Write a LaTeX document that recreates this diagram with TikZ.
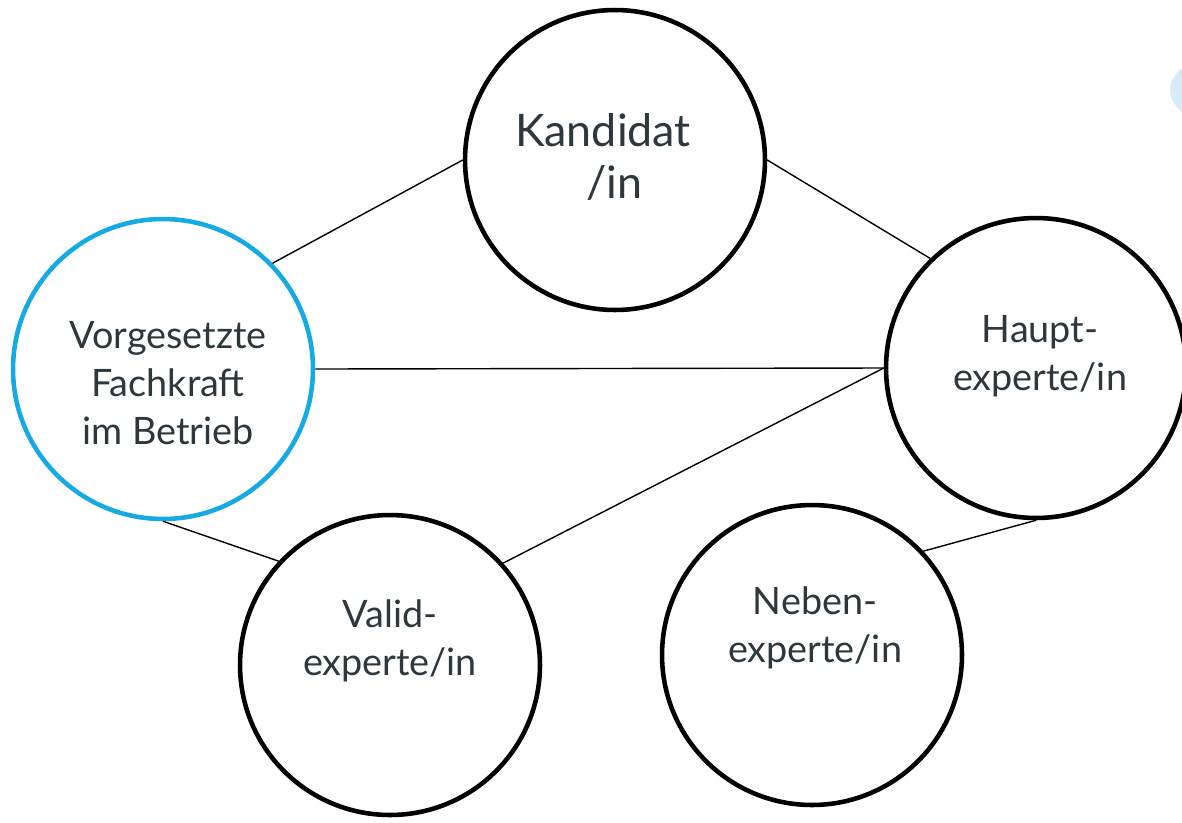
\documentclass[tikz,border=0pt]{standalone}
\usepackage{fontspec}
\setmainfont{Lato}
\definecolor{txtgray}{RGB}{45,55,62}
\definecolor{ringblue}{RGB}{22,170,226}
\definecolor{paleblue}{RGB}{214,236,246}
\begin{document}
\begin{tikzpicture}[x=0.02cm,y=-0.02cm,
  ring/.style={circle,draw,line width=2.6pt,minimum size=6cm,inner sep=0pt},
  role/.style={align=center,text=txtgray,font=\fontsize{21.5}{27.5}\selectfont},
  link/.style={line width=0.8pt}]
  \useasboundingbox (0,0) rectangle (1182,822);
  \begin{scope}
    \clip (0,0) rectangle (1182,822);
    \fill[paleblue] (1208,90) ellipse [x radius=38, y radius=30];
  \end{scope}
  \node[ring] (kand) at (615,160) {};
  \node[ring,draw=ringblue] (vorg) at (163,369) {};
  \node[ring] (haupt) at (1036,368) {};
  \node[ring] (valid) at (390,665) {};
  \node[ring] (neben) at (812,655) {};
  \node[role,font=\fontsize{25.5}{30}\selectfont] (kandtxt) at (603,157) {Kandidat\\\hspace*{0.5em}/in};
  \node[role] (vorgtxt) at (168,383) {Vorgesetzte\\Fachkraft\\im Betrieb};
  \node[role] (haupttxt) at (1040,356) {Haupt-\\experte/in};
  \node[role] (validtxt) at (390,641) {Valid-\\experte/in};
  \node[role] (nebentxt) at (815,628) {Neben-\\experte/in};
  \draw[link] (kand.180) -- (vorg.44);
  \draw[link] (kand.0) -- (haupt.134);
  \draw[link] (vorg.0) -- (haupt.180);
  \draw[link] (valid.42) -- (haupt.180);
  \draw[link] (vorg.270) -- (valid.137);
  \draw[link] (neben.43) -- (haupt.270);
\end{tikzpicture}
\end{document}
